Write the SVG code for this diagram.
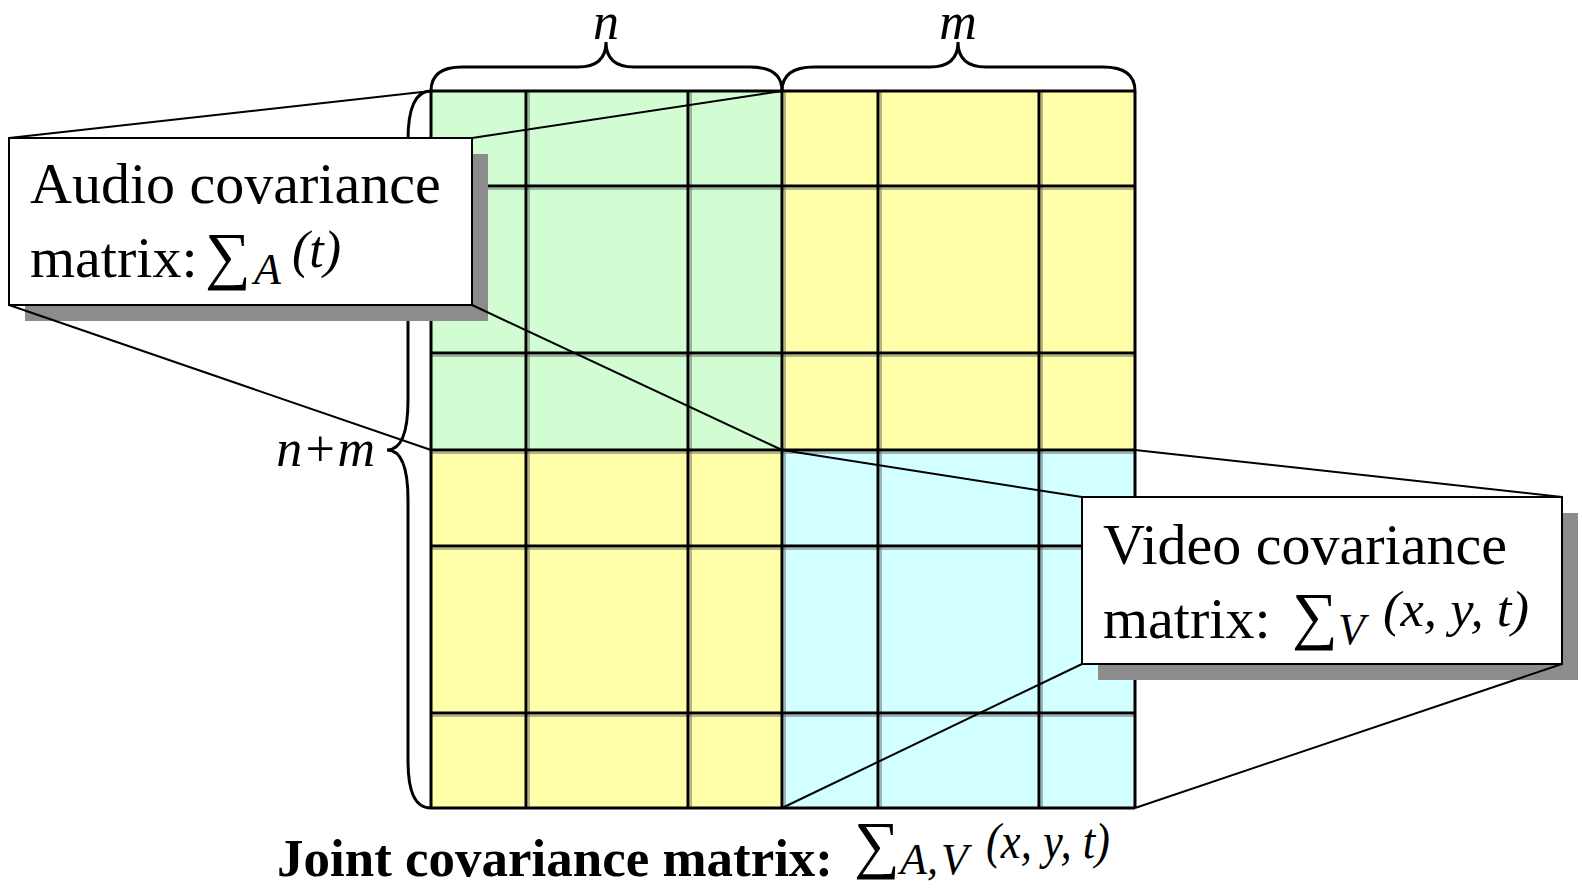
<svg xmlns="http://www.w3.org/2000/svg" width="1582" height="890" viewBox="0 0 1582 890">
<style>
.g{fill:#D2FCD2}.y{fill:#FFFFAA}.c{fill:#D2FFFF}
.gl{stroke:#000;stroke-width:3;fill:none}
.gr{stroke:#6a6a6a;stroke-width:1;fill:none}
.br{stroke:#000;stroke-width:3;fill:none}
.ln{stroke:#000;stroke-width:2;fill:none}
.box{fill:#fff;stroke:#000;stroke-width:2}
.sh{fill:#8c8c8c}
.t{font-family:"Liberation Serif","Times New Roman",serif;fill:#000}
.i{font-style:italic}
.sym{font-family:"Liberation Serif","DejaVu Serif",serif}
</style>
<g id="matrix">
<rect class="g" x="431" y="91" width="351" height="359"/>
<rect class="y" x="782" y="91" width="353" height="359"/>
<rect class="y" x="431" y="450" width="351" height="358"/>
<rect class="c" x="782" y="450" width="353" height="358"/>
<path class="gr" d="M529,91V808M691,91V808M785,91V808M881,91V808M1042,91V808M431,189H1135M431,356H1135M431,453H1135M431,549H1135M431,716H1135"/>
<path class="gl" d="M431,91V808M526,91V808M688,91V808M782,91V808M878,91V808M1039,91V808M1135,91V808M431,91H1135M431,186H1135M431,353H1135M431,450H1135M431,546H1135M431,713H1135M431,808H1135"/>
</g>
<g id="brace-n">
<path class="br" d="M431,91 C431,74 442,67 462,67 L578,67 C597,67 606,58 606,42 C606,58 615,67 634,67 L750,67 C770,67 782,74 782,91"/>
<text class="t i" x="606" y="39" font-size="52" text-anchor="middle">n</text>
</g>
<g id="brace-m">
<path class="br" d="M782,91 C782,74 794,67 814,67 L930,67 C949,67 958,58 958,42 C958,58 967,67 986,67 L1103,67 C1123,67 1135,74 1135,91"/>
<text class="t i" x="958" y="39" font-size="52" text-anchor="middle">m</text>
</g>
<g id="brace-nm">
<path class="br" d="M431,91 C414,91 408,110 408,140 L408,400 C408,435 400,450 387,450 C400,450 408,465 408,500 L408,760 C408,790 414,808 431,808"/>
<text class="t i" x="375" y="466" font-size="52" text-anchor="end">n+m</text>
</g>
<g id="shadows">
<rect class="sh" x="25" y="154" width="463" height="167"/>
<rect class="sh" x="1098" y="513" width="480" height="167"/>
</g>
<g id="connectors">
<path class="ln" d="M9,138L431,91M472,138L782,91M9,305L431,450M472,305L782,450"/>
<path class="ln" d="M1082,497L782,450M1562,497L1135,450M1082,664L782,808M1562,664L1135,808"/>
</g>
<g id="audio-box">
<rect class="box" x="9" y="138" width="463" height="167"/>
<text class="t" x="30" y="203" font-size="58">Audio covariance</text>
<text class="t" x="30" y="277" font-size="58">matrix:</text>
<text class="t sym" x="205" y="277" font-size="64">∑</text>
<text class="t i" x="254" y="284" font-size="44">A</text>
<text class="t i" x="292" y="267" font-size="52">(t)</text>
</g>
<g id="video-box">
<rect class="box" x="1082" y="497" width="480" height="167"/>
<text class="t" x="1103" y="564" font-size="58">Video covariance</text>
<text class="t" x="1103" y="638" font-size="58">matrix:</text>
<text class="t sym" x="1292" y="637" font-size="64">∑</text>
<text class="t i" x="1338" y="644" font-size="44">V</text>
<text class="t i" x="1383" y="626" font-size="50" textLength="146" lengthAdjust="spacingAndGlyphs">(x, y, t)</text>
</g>
<g id="joint-label">
<text class="t" x="277" y="876" font-size="53" font-weight="bold" textLength="556" lengthAdjust="spacingAndGlyphs">Joint covariance matrix:</text>
<text class="t sym" x="854" y="866" font-size="64">∑</text>
<text class="t i" x="900" y="874" font-size="44">A,</text>
<text class="t i" x="941" y="874" font-size="44">V</text>
<text class="t i" x="986" y="858" font-size="50" textLength="124" lengthAdjust="spacingAndGlyphs">(x, y, t)</text>
</g>
</svg>
